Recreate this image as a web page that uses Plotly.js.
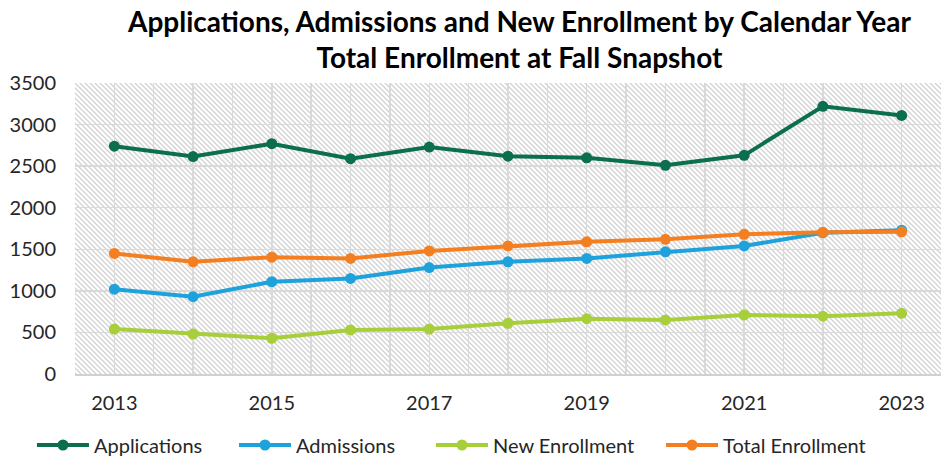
<!DOCTYPE html>
<html>
<head>
<meta charset="utf-8">
<script src="https://cdn.plot.ly/plotly-3.0.1.min.js"></script>
<style>
  html, body { margin: 0; padding: 0; background: #ffffff; }
  #chart { width: 941px; height: 457px; }
</style>
</head>
<body>
<div id="chart"></div>
<script>
const years = [2013, 2014, 2015, 2016, 2017, 2018, 2019, 2020, 2021, 2022, 2023];
const applications    = [2740, 2615, 2770, 2590, 2730, 2620, 2600, 2510, 2630, 3220, 3110];
const admissions      = [1020, 930, 1110, 1150, 1280, 1350, 1390, 1470, 1540, 1700, 1730];
const newEnrollment   = [540, 480, 430, 530, 540, 610, 665, 650, 710, 695, 730];
const totalEnrollment = [1450, 1350, 1405, 1390, 1480, 1540, 1590, 1620, 1680, 1705, 1710];
const xTickVals  = [2013, 2015, 2017, 2019, 2021, 2023];
const xTickText  = ['2013', '2015', '2017', '2019', '2021', '2023'];
const seriesNames = ['Applications', 'Admissions', 'New Enrollment', 'Total Enrollment'];
const titleLines = ['Applications, Admissions and New Enrollment by Calendar Year', 'Total Enrollment at Fall Snapshot'];

const colors = ['#0a6e4f', '#1ea2dc', '#a6cf3a', '#f47f20'];
const seriesValues = [applications, admissions, newEnrollment, totalEnrollment];
const legendIds = ['legend', 'legend2', 'legend3', 'legend4'];
const legendX = [-0.0497, 0.1836, 0.4111, 0.6767];

const traces = seriesValues.map((vals, i) => ({
  type: 'scatter',
  mode: 'lines+markers',
  name: seriesNames[i],
  legend: legendIds[i],
  x: years,
  y: vals,
  line: { color: colors[i], width: 4 },
  marker: { color: colors[i], size: 11 }
}));

// Hatched background for plot area (diagonal "\" lines)
const hatchSvg =
  '<svg xmlns="http://www.w3.org/2000/svg" width="866" height="291" viewBox="0 0 866 291" preserveAspectRatio="none">' +
  '<defs><pattern id="h" patternUnits="userSpaceOnUse" width="5" height="5">' +
  '<rect width="5" height="5" fill="#ffffff"/>' +
  '<path d="M-1,-1 L6,6 M-1,4 L1,6 M4,-1 L6,1" stroke="#d2d2d2" stroke-width="1.3"/>' +
  '</pattern></defs>' +
  '<rect width="866" height="291" fill="url(#h)"/></svg>';
const hatchUri = 'data:image/svg+xml;charset=utf-8,' + encodeURIComponent(hatchSvg);

const legendBase = {
  orientation: 'h',
  xanchor: 'left',
  y: -0.244, yanchor: 'middle',
  itemwidth: 52,
  font: { family: 'Lato, "Open Sans", sans-serif', size: 20, color: '#262626' },
  bgcolor: 'rgba(0,0,0,0)'
};

const layout = {
  width: 941,
  height: 457,
  margin: { l: 75, r: 0, t: 83, b: 83, autoexpand: false },
  paper_bgcolor: '#ffffff',
  plot_bgcolor: 'rgba(0,0,0,0)',
  font: { family: 'Lato, "Open Sans", sans-serif', color: '#262626' },
  title: {
    text: '<b>' + titleLines.join('<br>') + '</b>',
    font: { family: 'Lato, "Open Sans", sans-serif', size: 28, color: '#000000' },
    xref: 'container', x: 0.552, xanchor: 'center',
    yref: 'container', y: 0.93, yanchor: 'top'
  },
  xaxis: {
    type: 'linear',
    range: [2012.5, 2023.5],
    tickvals: xTickVals,
    ticktext: xTickText,
    showgrid: true,
    gridcolor: '#d9d9d9',
    gridwidth: 1.5,
    minor: { dtick: 0.5, tick0: 2012.5, showgrid: true, gridcolor: '#d9d9d9', gridwidth: 1.5, ticks: '' },
    zeroline: false,
    showline: true,
    linecolor: '#d0d0d0',
    linewidth: 2,
    ticks: '',
    ticklabelstandoff: 10,
    tickfont: { size: 20, color: '#262626' },
    fixedrange: true
  },
  yaxis: {
    range: [0, 3500],
    dtick: 500,
    tick0: 0,
    showgrid: true,
    gridcolor: '#d9d9d9',
    gridwidth: 1.5,
    zeroline: false,
    showline: false,
    ticks: '',
    ticklabelstandoff: 18,
    tickfont: { size: 20, color: '#262626' },
    fixedrange: true
  },
  legend:  Object.assign({}, legendBase, { x: legendX[0] }),
  legend2: Object.assign({}, legendBase, { x: legendX[1] }),
  legend3: Object.assign({}, legendBase, { x: legendX[2] }),
  legend4: Object.assign({}, legendBase, { x: legendX[3] }),
  images: [{
    source: hatchUri,
    xref: 'paper', yref: 'paper',
    x: 0, y: 1, sizex: 1, sizey: 1,
    xanchor: 'left', yanchor: 'top',
    sizing: 'stretch',
    layer: 'below'
  }],
  showlegend: true
};

Plotly.newPlot('chart', traces, layout, { displayModeBar: false, staticPlot: true });
</script>
</body>
</html>
